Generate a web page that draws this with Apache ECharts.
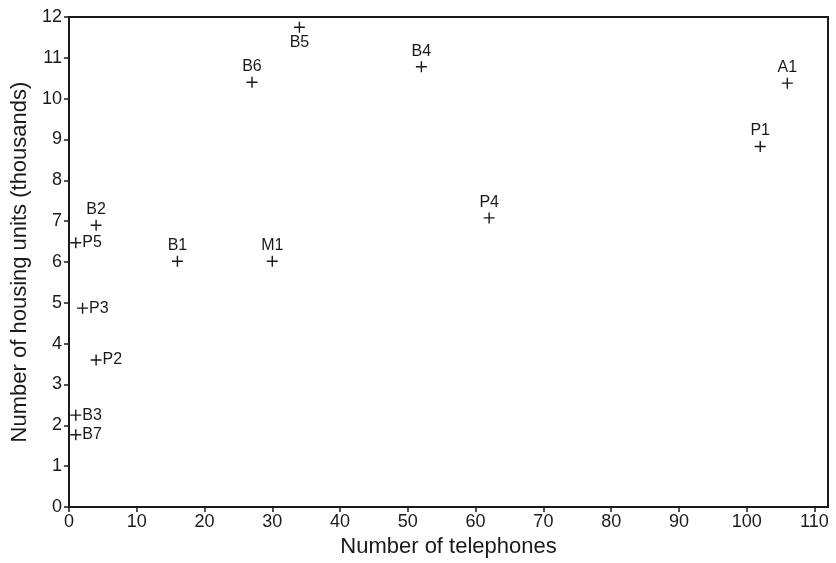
<!DOCTYPE html>
<html>
<head>
<meta charset="utf-8">
<script src="https://cdn.jsdelivr.net/npm/echarts@6/dist/echarts.min.js"></script>
<style>
  html, body { margin: 0; padding: 0; background: #fff; }
  #chart { width: 836px; height: 563px; }
</style>
</head>
<body>
<div id="chart"></div>
<script>
// exchange areas
let names = ["B5", "B6", "B4", "A1", "P1", "P4", "B2", "P5", "B1", "M1", "P3", "P2", "B3", "B7"];
let phones = [34, 27, 52, 106, 102, 62, 4, 1, 16, 30, 2, 4, 1, 1];
let housing = [11.75, 10.4, 10.78, 10.38, 8.83, 7.08, 6.9, 6.47, 6.02, 6.02, 4.87, 3.6, 2.25, 1.77];
let xTicks = [0, 10, 20, 30, 40, 50, 60, 70, 80, 90, 100, 110];
let yTicks = [0, 1, 2, 3, 4, 5, 6, 7, 8, 9, 10, 11, 12];

// where each label sits relative to its cross
let labelPos = { B5: "bottom", P5: "right", P3: "right", P2: "right", B3: "right", B7: "right" };

const ink = "#1a1a1a";
const font = "Liberation Sans, Arial, Helvetica, sans-serif";
const cross = "path://M0,4.35h10v1.3h-10zM4.35,0h1.3v10h-1.3z";

let points = names.map((n, i) => {
    let pos = labelPos[n] || "top";
    return {
        name: n,
        value: [phones[i], housing[i]],
        label: {
            position: pos,
            distance: pos == "right" ? 1 : 2
        }
    };
});

let option = {
    animation: false,
    backgroundColor: "#fff",
    grid: {
        show: true,
        left: 69,
        right: 8,
        top: 17,
        bottom: 55,
        borderColor: ink,
        borderWidth: 2,
        containLabel: false
    },
    xAxis: {
        type: "value",
        min: 0,
        max: 112,
        name: "Number of telephones",
        nameLocation: "middle",
        nameGap: 29,
        nameTextStyle: { color: ink, fontSize: 22, fontFamily: font },
        splitLine: { show: false },
        axisLine: { lineStyle: { color: ink, width: 2 } },
        axisTick: { show: true, length: 5, customValues: xTicks, lineStyle: { color: ink, width: 1.5 } },
        axisLabel: { customValues: xTicks, color: ink, fontSize: 18, fontFamily: font, margin: 6 }
    },
    yAxis: {
        type: "value",
        min: 0,
        max: 12,
        interval: 1,
        name: "Number of housing units (thousands)",
        nameLocation: "middle",
        nameGap: 38,
        nameTextStyle: { color: ink, fontSize: 22, fontFamily: font },
        splitLine: { show: false },
        axisLine: { lineStyle: { color: ink, width: 2 } },
        axisTick: { show: true, length: 5, customValues: yTicks, lineStyle: { color: ink, width: 1.5 } },
        axisLabel: { customValues: yTicks, color: ink, fontSize: 18, fontFamily: font, margin: 7 }
    },
    series: [{
        type: "scatter",
        symbol: cross,
        symbolSize: 11,
        itemStyle: { color: ink, opacity: 1 },
        label: {
            show: true,
            formatter: "{b}",
            color: ink,
            fontSize: 16,
            fontFamily: font
        },
        data: points
    }]
};

var chart = echarts.init(document.getElementById("chart"), null, { renderer: "canvas" });
chart.setOption(option);
window.addEventListener("resize", function() {
    chart.resize();
});
</script>
</body>
</html>
